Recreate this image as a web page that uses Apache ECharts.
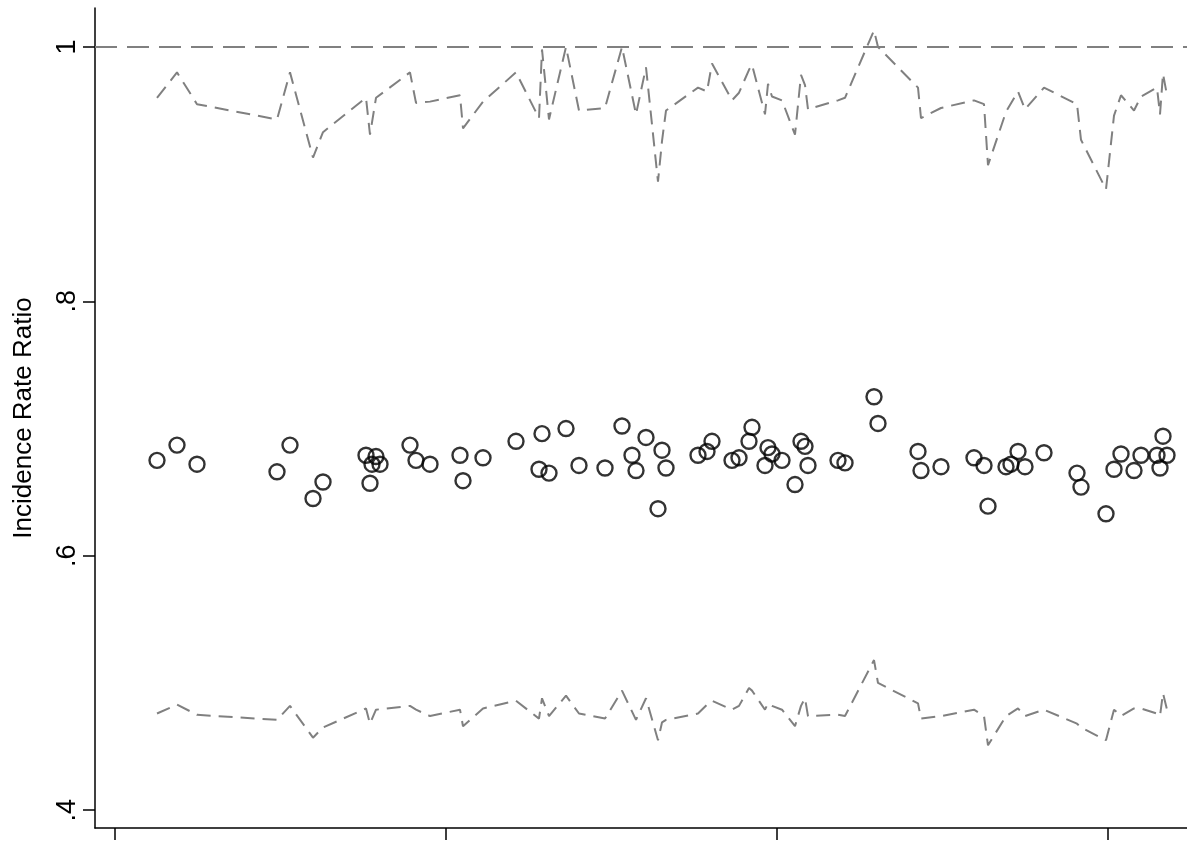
<!DOCTYPE html>
<html>
<head>
<meta charset="utf-8">
<script src="https://cdn.jsdelivr.net/npm/echarts@6/dist/echarts.min.js"></script>
<style>html,body{margin:0;padding:0;background:#fff;}#c{width:1187px;height:842px;}</style>
</head>
<body>
<div id="c"></div>
<script>
// estimate positions (arbitrary x units, no x labels in the original)
var pointX = [157,177,197,277,290,313,323,366,370,376,372,380,410,416,430,460,463,483,516,539,542,549,566,579,605,622,632,636,646,658,662,666,698,707,712,732,739,749,752,765,768,772,782,795,801,805,808,838,845,874,878,918,921,941,974,984,988,1006,1011,1018,1025,1044,1077,1081,1106,1114,1121,1134,1141,1157,1160,1163,1167];
var irr = [.675,.687,.672,.666,.687,.645,.658,.679,.657,.678,.672,.672,.687,.675,.672,.679,.659,.677,.690,.668,.696,.665,.700,.671,.669,.702,.679,.667,.693,.637,.683,.669,.679,.682,.690,.675,.677,.690,.701,.671,.685,.680,.675,.656,.690,.686,.671,.675,.673,.725,.704,.682,.667,.670,.677,.671,.639,.670,.672,.682,.670,.681,.665,.654,.633,.668,.680,.667,.679,.679,.669,.694,.679];
var ciX = [157,177,197,277,290,313,323,366,370,376,410,416,430,460,463,483,516,539,542,549,566,579,605,622,636,646,658,662,666,698,707,712,732,739,749,752,765,768,772,782,795,801,805,808,838,845,874,878,918,921,941,974,984,988,1006,1018,1025,1044,1077,1081,1106,1114,1121,1134,1141,1157,1160,1163,1167];
var upper = [.960,.980,.955,.943,.980,.913,.933,.960,.931,.960,.980,.956,.957,.962,.936,.957,.980,.944,.998,.943,1.0,.950,.952,1.0,.947,.984,.894,.926,.950,.968,.965,.987,.958,.964,.982,.986,.947,.971,.961,.958,.931,.978,.970,.951,.958,.960,1.013,1.0,.968,.944,.952,.958,.955,.907,.949,.965,.951,.968,.955,.927,.888,.946,.962,.950,.961,.968,.947,.979,.962];
var lower = [.476,.483,.475,.471,.482,.457,.465,.480,.468,.479,.482,.479,.474,.479,.466,.480,.486,.472,.488,.474,.490,.476,.472,.494,.471,.488,.455,.469,.471,.476,.483,.486,.479,.482,.496,.494,.479,.484,.482,.479,.466,.482,.488,.474,.475,.474,.518,.500,.484,.472,.474,.479,.474,.451,.474,.480,.474,.479,.468,.465,.455,.479,.474,.480,.480,.476,.474,.492,.479];
var xTicks = [115,446,777,1108];
var yTicks = [0.4,0.6,0.8,1];

function zip(xs, ys) { return xs.map(function (x, i) { return [x, ys[i]]; }); }

var myChart = echarts.init(document.getElementById('c'));
var ciStyle = { color: '#808080', width: 2, type: [14, 8] };
option = {
    animation: false,
    grid: { left: 95, right: 0, top: 8, bottom: 14 },
    xAxis: {
        type: 'value', min: 95, max: 1187,
        splitLine: { show: false },
        axisLine: { onZero: false, lineStyle: { color: '#000', width: 1.5 } },
        axisTick: { customValues: xTicks, length: 12, lineStyle: { color: '#000', width: 1.5 } },
        axisLabel: { show: false }
    },
    yAxis: {
        type: 'value', min: 0.386, max: 1.0306,
        name: 'Incidence Rate Ratio', nameLocation: 'middle', nameGap: 58,
        nameTextStyle: { fontFamily: 'Liberation Sans', fontSize: 26, color: '#000' },
        splitLine: { show: false },
        axisLine: { lineStyle: { color: '#000', width: 1.5 } },
        axisTick: { customValues: yTicks, length: 12, lineStyle: { color: '#000', width: 1.5 } },
        axisLabel: {
            customValues: yTicks, rotate: 90, fontFamily: 'Liberation Sans', fontSize: 27, color: '#000', margin: 14,
            formatter: function (v) { return v === 1 ? '1' : String(v).replace('0.', '.'); }
        }
    },
    series: [
        {
            type: 'line', data: zip(ciX, upper), showSymbol: false, lineStyle: ciStyle,
            markLine: {
                silent: true, symbol: 'none', label: { show: false },
                lineStyle: { color: '#808080', width: 2, type: [22, 10] },
                data: [{ yAxis: 1 }]
            }
        },
        { type: 'line', data: zip(ciX, lower), showSymbol: false, lineStyle: ciStyle },
        {
            type: 'scatter', data: zip(pointX, irr), symbol: 'circle', symbolSize: 15,
            itemStyle: { color: 'rgba(0,0,0,0)', borderColor: '#000', borderWidth: 2.4 }
        }
    ]
};
myChart.setOption(option);
</script>
</body>
</html>
